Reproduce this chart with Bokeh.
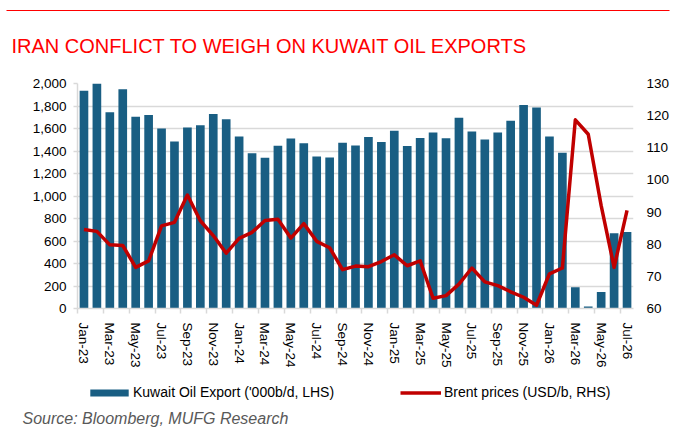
from bokeh.plotting import figure
from bokeh.layouts import column
from bokeh.models import (Range1d, LinearAxis, FixedTicker, NumeralTickFormatter,
                          Label, Legend, LegendItem)
from bokeh.embed import file_html
from bokeh.resources import INLINE

months = ["Jan-23", "Feb-23", "Mar-23", "Apr-23", "May-23", "Jun-23", "Jul-23", "Aug-23",
          "Sep-23", "Oct-23", "Nov-23", "Dec-23", "Jan-24", "Feb-24", "Mar-24", "Apr-24",
          "May-24", "Jun-24", "Jul-24", "Aug-24", "Sep-24", "Oct-24", "Nov-24", "Dec-24",
          "Jan-25", "Feb-25", "Mar-25", "Apr-25", "May-25", "Jun-25", "Jul-25", "Aug-25",
          "Sep-25", "Oct-25", "Nov-25", "Dec-25", "Jan-26", "Feb-26", "Mar-26", "Apr-26",
          "May-26", "Jun-26", "Jul-26"]
exports = [1935, 2005, 1745, 1950, 1705, 1720, 1600, 1485, 1610, 1630, 1728, 1683,
           1528, 1381, 1340, 1447, 1511, 1470, 1352, 1343, 1473, 1450, 1525, 1481,
           1580, 1444, 1516, 1565, 1513, 1695, 1574, 1502, 1565, 1669, 1810, 1787,
           1528, 1384, 190, 17, 147, 668, 680]
brent = [84.6, 84.0, 79.8, 79.6, 72.8, 74.8, 85.7, 86.8, 95.3, 87.3, 82.7, 77.2,
         81.8, 83.7, 87.4, 87.8, 81.9, 86.4, 80.9, 78.9, 72.1, 73.2, 73.0, 74.6,
         76.7, 73.3, 74.8, 63.2, 64.0, 67.6, 72.6, 68.3, 67.1, 65.2, 63.5, 61.0,
         70.8, 72.6, 118.7, 114.2, 92.0, 72.8, 90.5]
left_ticks = [0, 200, 400, 600, 800, 1000, 1200, 1400, 1600, 1800, 2000]
right_ticks = [60, 70, 80, 90, 100, 110, 120, 130]

title_text = "IRAN CONFLICT TO WEIGH ON KUWAIT OIL EXPORTS"
source_text = "Source: Bloomberg, MUFG Research"
bar_label = "Kuwait Oil Export ('000b/d, LHS)"
line_label = "Brent prices (USD/b, RHS)"

BAR = "#195E83"
RED = "#C00000"
GRID = "#D9D9D9"
FONT = "Liberation Sans"
W = 681
HEAD_H = 70
MAIN_H = 300
FOOT_H = 59


def blank(h):
    f = figure(width=W, height=h, output_backend="svg", toolbar_location=None,
               x_range=Range1d(0, W), y_range=Range1d(h, 0), min_border=0,
               x_axis_location=None, y_axis_location=None, frame_align=False)
    f.outline_line_color = None
    f.xgrid.visible = False
    f.ygrid.visible = False
    f.border_fill_color = "white"
    return f


# ---------- header: top rule + title ----------
head = blank(HEAD_H)
head.segment(x0=[6], y0=[10], x1=[669], y1=[10], line_color="#FF0000", line_width=1.2)
head.add_layout(Label(x=11, y=45.7, text=title_text, text_font=FONT,
                      text_font_size="20px", text_color="#FF0000",
                      text_baseline="middle"))

# ---------- main chart ----------
xs = list(range(len(months)))
p = figure(width=W, height=MAIN_H, output_backend="svg", toolbar_location=None,
           x_range=Range1d(-0.5, len(months) - 0.5), y_range=Range1d(0, 2000),
           min_border_left=77, min_border_right=48, min_border_top=13, min_border_bottom=56,
           x_axis_location=None, y_axis_location=None, frame_align=False)
p.outline_line_color = None
p.border_fill_color = "white"
p.extra_y_ranges = {"brent": Range1d(60, 130)}

p.xgrid.visible = False
p.ygrid.grid_line_color = GRID
p.ygrid.grid_line_width = 1.5
p.ygrid.ticker = FixedTicker(ticks=left_ticks)

yleft = LinearAxis(ticker=FixedTicker(ticks=left_ticks),
                   formatter=NumeralTickFormatter(format="0,0"))
yleft.axis_line_color = GRID
yleft.axis_line_width = 1.5
yleft.major_tick_line_color = GRID
yleft.major_tick_line_width = 1.5
yleft.major_tick_out = 4
yleft.major_tick_in = 0
yleft.minor_tick_line_color = None
yleft.major_label_standoff = 7
yleft.major_label_text_font = FONT
yleft.major_label_text_font_size = "13.5px"
yleft.major_label_text_color = "black"
p.add_layout(yleft, "left")

yright = LinearAxis(y_range_name="brent", ticker=FixedTicker(ticks=right_ticks))
yright.axis_line_color = None
yright.major_tick_line_color = None
yright.major_tick_out = 0
yright.major_tick_in = 0
yright.minor_tick_line_color = None
yright.major_label_standoff = 13
yright.major_label_text_font = FONT
yright.major_label_text_font_size = "13.5px"
yright.major_label_text_color = "black"
p.add_layout(yright, "right")

major = xs[::2]
minor = [x - 0.5 for x in xs[::2]]
xaxis = LinearAxis(ticker=FixedTicker(ticks=major, minor_ticks=minor))
xaxis.major_label_overrides = {x: months[x] for x in major}
xaxis.axis_line_color = GRID
xaxis.axis_line_width = 1.5
xaxis.major_tick_line_color = None
xaxis.major_tick_out = 0
xaxis.major_tick_in = 0
xaxis.minor_tick_line_color = GRID
xaxis.minor_tick_line_width = 1.5
xaxis.minor_tick_out = 5
xaxis.minor_tick_in = 0
xaxis.major_label_orientation = "vertical"
xaxis.major_label_standoff = 9
xaxis.major_label_text_font = FONT
xaxis.major_label_text_font_size = "13.5px"
xaxis.major_label_text_color = "black"
p.add_layout(xaxis, "below")

bars = p.vbar(x=xs, top=exports, width=0.67, fill_color=BAR, line_color=None)
line = p.line(x=xs, y=brent, y_range_name="brent", line_color=RED, line_width=3.5,
              line_join="round")

# ---------- footer: legend + source ----------
foot = blank(FOOT_H)
# legend proxies (outside the visible range, only their style is used by the legend)
proxy_bar = foot.vbar(x=[-50], top=[-50], width=1, fill_color=BAR, line_color=None)
proxy_line = foot.line(x=[-60, -50], y=[-50, -50], line_color=RED, line_width=3.5)

leg_common = dict(orientation="horizontal", glyph_height=9, label_height=14,
                  padding=0, margin=0, border_line_color=None, background_fill_alpha=0,
                  label_text_font=FONT, label_text_font_size="14px",
                  label_text_color="black")
leg1 = Legend(items=[LegendItem(label=bar_label, renderers=[proxy_bar])],
              location=(85, 29), glyph_width=48, label_standoff=0, **leg_common)
leg2 = Legend(items=[LegendItem(label=line_label, renderers=[proxy_line])],
              location=(400, 29), glyph_width=41, label_standoff=3, **leg_common)
foot.add_layout(leg1)
foot.add_layout(leg2)
foot.add_layout(Label(x=22, y=48.4, text=source_text, text_font=FONT,
                      text_font_size="16px", text_font_style="italic",
                      text_color="#595959", text_baseline="middle"))

layout = column(head, p, foot, spacing=0)
open("out.html", "w").write(file_html(layout, INLINE))
